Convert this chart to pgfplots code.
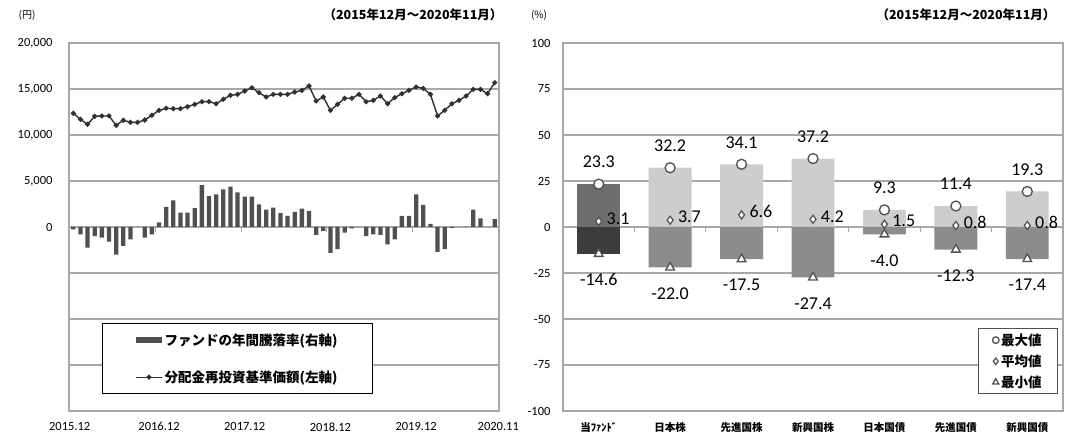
\documentclass[border=0pt]{standalone}
\usepackage{pgfplots}
\usepackage{pgfplotstable}
\pgfplotsset{compat=1.18}
\usepackage{fontspec}
\setmainfont{Carlito}
\newfontfamily\jp{Noto Sans CJK JP}

\definecolor{gridc}{HTML}{A8A8A8}
\definecolor{barL}{HTML}{505050}
\definecolor{lineC}{HTML}{303030}
\definecolor{fundup}{HTML}{6E6E6E}
\definecolor{funddn}{HTML}{3C3C3C}
\definecolor{othup}{HTML}{CDCDCD}
\definecolor{othdn}{HTML}{8C8C8C}
\definecolor{markc}{HTML}{505050}

% month index, NAV (left axis), annual return bars (drawn on left scale)
\pgfplotstableread{
m nav ret
0 12360 -250
1 11700 -800
2 11160 -2250
3 12030 -1000
4 12070 -1150
5 12070 -1600
6 11050 -3000
7 11600 -2050
8 11380 -1350
9 11380 0
10 11630 -1150
11 12140 -800
12 12680 500
13 12900 2200
14 12860 2900
15 12860 1550
16 13080 1550
17 13330 2050
18 13620 4550
19 13620 3350
20 13400 3550
21 13880 4100
22 14310 4400
23 14420 3750
24 14780 3300
25 15140 3300
26 14600 2450
27 14130 1900
28 14420 2100
29 14420 1500
30 14420 1200
31 14670 1650
32 14850 2000
33 15330 1750
34 13700 -850
35 14130 -450
36 12680 -2800
37 13330 -2400
38 13990 -600
39 13990 -150
40 14420 0
41 13620 -1000
42 13770 -800
43 14240 -850
44 13400 -1900
45 14060 -1350
46 14490 1200
47 14850 1200
48 15220 3550
49 15070 2400
50 14420 350
51 12070 -2700
52 12680 -2400
53 13400 -100
54 13770 0
55 14240 50
56 14960 1900
57 14960 950
58 14490 0
59 15690 850
}\navtab

% category, max, mean, min (%)
\pgfplotstableread{
x max avg min
0 23.3 3.1 -14.6
1 32.2 3.7 -22.0
2 34.1 6.6 -17.5
3 37.2 4.2 -27.4
4 9.3 1.5 -4.0
5 11.4 0.8 -12.3
6 19.3 0.8 -17.4
}\stattab

\begin{document}
\begin{tikzpicture}
\useasboundingbox (0pt,0pt) rectangle (1066pt,439pt);

\pgfplotsset{
  chart/.style={
    scale only axis, anchor=south west, height=368pt,
    ymajorgrids, grid style={gridc, line width=1.3pt},
    axis line style={gridc, line width=1.3pt},
    tick style={draw=none},
    ticklabel style={font=\fontsize{12.5}{14}\selectfont},
    xticklabel style={yshift=-8pt},
    scaled y ticks=false,
    /pgf/number format/assume math mode=true,
  },
  valnode/.style={nodes near coords={\pgfmathprintnumber[fixed,fixed zerofill,precision=1]{\pgfplotspointmeta}}},
}

% ---- left: NAV and annual return
\begin{axis}[chart,
  at={(69pt,28pt)}, width=430pt,
  xmin=-0.6, xmax=59.6, ymin=-20000, ymax=20000,
  ytick={-20000,-15000,...,20000},
  yticklabels={,,,,0,{5,000},{10,000},{15,000},{20,000}},
  yticklabel style={xshift=-13pt},
  xtick={-0.5,12,24,36,48,59.5},
  xticklabels={2015.12,2016.12,2017.12,2018.12,2019.12,2020.11},
  legend style={at={(0.0767,0.239)}, anchor=north west, draw=black, line width=0.9pt,
    fill=white, font=\jp\bfseries\fontsize{13.5}{15}\selectfont,
    inner xsep=33pt, inner ysep=8pt, row sep=20pt},
  legend cell align=left,
]
\addplot[ybar, bar width=0.6, bar shift=0pt, fill=barL, draw=none,
  legend image code/.code={\fill[barL] (0pt,-3pt) rectangle (26pt,3pt);}]
  table[x=m, y=ret] {\navtab};
\addlegendentry{ファンドの年間騰落率(右軸)}
\addplot[lineC, line width=1.4pt, mark=*, mark size=1.8pt,
  legend image code/.code={\draw[lineC, line width=1.2pt] (0pt,0pt) -- (26pt,0pt);
    \fill[lineC] (13pt,0pt) circle (1.8pt);}]
  table[x=m, y=nav] {\navtab};
\addlegendentry{分配金再投資基準価額(左軸)}
\addplot[ycomb, gridc, line width=1.2pt, mark=none, forget plot]
  coordinates {(11.5,-550) (23.5,-550) (35.5,-550) (47.5,-550)};
\end{axis}

% ---- right: range of annual returns by asset
\begin{axis}[chart,
  at={(563pt,28pt)}, width=500pt,
  xmin=-0.5, xmax=6.5, ymin=-100, ymax=100,
  ytick={-100,-75,...,100},
  yticklabel style={xshift=-9pt},
  xtick={0,...,6},
  xticklabels={当ﾌｧﾝﾄﾞ,日本株,先進国株,新興国株,日本国債,先進国債,新興国債},
  xticklabel style={font=\jp\bfseries\fontsize{10.5}{12}\selectfont},
  legend style={at={(0.83,0.225)}, anchor=north west, draw=markc, line width=0.9pt,
    fill=white, font=\jp\bfseries\fontsize{13.5}{14}\selectfont,
    inner xsep=14pt, inner ysep=3pt, row sep=4pt},
  legend cell align=left,
  nodes near coords style={font=\fontsize{18}{20}\selectfont},
]
\addplot[ybar, bar width=0.6, bar shift=0pt, fill=fundup, draw=none, forget plot,
  restrict x to domain=-0.1:0.1] table[x=x, y=max] {\stattab};
\addplot[ybar, bar width=0.6, bar shift=0pt, fill=funddn, draw=none, forget plot,
  restrict x to domain=-0.1:0.1] table[x=x, y=min] {\stattab};
\addplot[ybar, bar width=0.6, bar shift=0pt, fill=othup, draw=none, forget plot,
  restrict x to domain=0.9:6.1] table[x=x, y=max] {\stattab};
\addplot[ybar, bar width=0.6, bar shift=0pt, fill=othdn, draw=none, forget plot,
  restrict x to domain=0.9:6.1] table[x=x, y=min] {\stattab};
\addplot[ycomb, gridc, line width=1.2pt, mark=none, forget plot]
  coordinates {(0.5,-2.8) (1.5,-2.8) (2.5,-2.8) (3.5,-2.8) (4.5,-2.8) (5.5,-2.8)};

\addplot[only marks, mark=*, mark size=5pt,
  mark options={fill=white, draw=markc, line width=1.3pt},
  legend image post style={mark size=3.3pt, line width=1pt},
  valnode, every node near coord/.append style={anchor=center, yshift=22pt}]
  table[x=x, y=max] {\stattab};
\addlegendentry{最大値}
\addplot[only marks, mark=diamond*, mark size=4pt,
  mark options={fill=white, draw=markc, line width=1.2pt},
  legend image post style={mark size=3.3pt, line width=1pt},
  valnode, every node near coord/.append style={anchor=west, xshift=4pt, yshift=3pt}]
  table[x=x, y=avg] {\stattab};
\addlegendentry{平均値}
\addplot[only marks, mark=triangle*, mark size=5pt,
  mark options={fill=white, draw=markc, line width=1.3pt},
  legend image post style={mark size=3.6pt, line width=1pt},
  valnode, every node near coord/.append style={anchor=center, yshift=-26pt}]
  table[x=x, y=min] {\stattab};
\addlegendentry{最小値}
\end{axis}

% ---- headings
\node[font=\jp\fontsize{10}{12}\selectfont] at (27pt,424pt) {(円)};
\node[font=\jp\bfseries\fontsize{12.5}{14}\selectfont] at (413pt,424pt) {（2015年12月～2020年11月）};
\node[font=\jp\fontsize{10}{12}\selectfont] at (539pt,424pt) {(\%)};
\node[font=\jp\bfseries\fontsize{12.5}{14}\selectfont] at (966pt,424pt) {（2015年12月～2020年11月）};
\end{tikzpicture}
\end{document}
